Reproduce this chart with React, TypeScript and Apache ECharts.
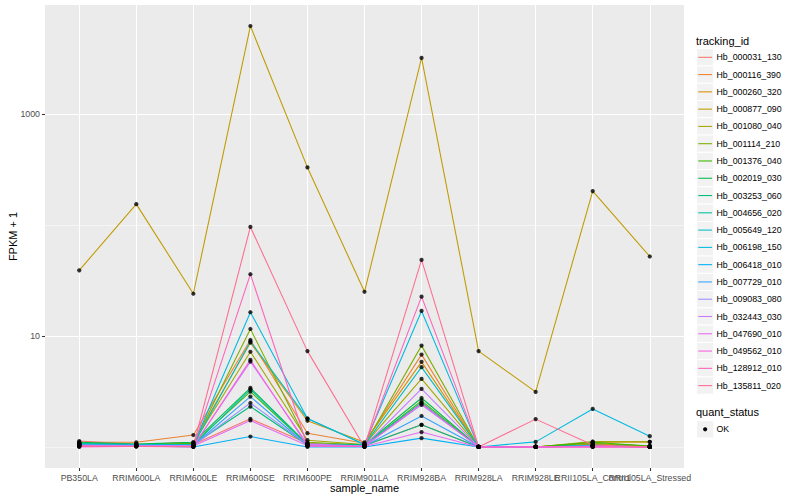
import React, { useEffect, useRef } from 'react';
import * as echarts from 'echarts';

// ---------- data ----------
const categories = [
  'PB350LA', 'RRIM600LA', 'RRIM600LE', 'RRIM600SE', 'RRIM600PE', 'RRIM901LA',
  'RRIM928BA', 'RRIM928LA', 'RRIM928LE', 'RRII105LA_Control', 'RRII105LA_Stressed',
];

const trackingIds = [
  'Hb_000031_130', 'Hb_000116_390', 'Hb_000260_320', 'Hb_000877_090', 'Hb_001080_040',
  'Hb_001114_210', 'Hb_001376_040', 'Hb_002019_030', 'Hb_003253_060', 'Hb_004656_020',
  'Hb_005649_120', 'Hb_006198_150', 'Hb_006418_010', 'Hb_007729_010', 'Hb_009083_080',
  'Hb_032443_030', 'Hb_047690_010', 'Hb_049562_010', 'Hb_128912_010', 'Hb_135811_020',
];

const seriesColors = [
  '#F8766D', '#EA8331', '#D89000', '#C09B00', '#A3A500', '#7CAE00', '#39B600', '#00BB4E',
  '#00BF7D', '#00C1A3', '#00BFC4', '#00BAE0', '#00B0F6', '#35A2FF', '#9590FF', '#C77CFF',
  '#E76BF3', '#FA62DB', '#FF62BC', '#FF6C91',
];

// FPKM + 1 per sample (order of categories)
const hb_000031_130 = [1.13, 1.05, 1.05, 1.79, 1.08, 1.03, 1.58, 1.0, 1.0, 1.05, 1.0];
const hb_000116_390 = [1.1, 1.1, 1.28, 9.2, 1.33, 1.08, 6.79, 1.0, 1.0, 1.06, 1.02];
const hb_000260_320 = [1.08, 1.05, 1.1, 8.7, 1.72, 1.1, 5.84, 1.0, 1.0, 1.1, 1.11];
const hb_000877_090 = [39, 154, 24, 6200, 330, 25, 3200, 7.3, 3.13, 202, 52];
const hb_001080_040 = [1.05, 1.04, 1.08, 7.2, 1.15, 1.05, 4.1, 1.0, 1.0, 1.12, 1.11];
const hb_001114_210 = [1.06, 1.04, 1.06, 11.56, 1.1, 1.04, 8.18, 1.0, 1.0, 1.08, 1.02];
const hb_001376_040 = [1.05, 1.03, 1.07, 3.15, 1.05, 1.03, 2.6, 1.0, 1.0, 1.1, 1.02];
const hb_002019_030 = [1.1, 1.06, 1.1, 3.4, 1.06, 1.05, 2.76, 1.0, 1.0, 1.04, 1.0];
const hb_003253_060 = [1.08, 1.05, 1.05, 2.31, 1.04, 1.03, 1.58, 1.0, 1.0, 1.03, 1.0];
const hb_004656_020 = [1.07, 1.05, 1.04, 3.3, 1.05, 1.04, 2.5, 1.0, 1.0, 1.03, 1.0];
const hb_005649_120 = [1.05, 1.04, 1.04, 8.9, 1.8, 1.05, 5.23, 1.0, 1.0, 1.02, 1.0];
const hb_006198_150 = [1.05, 1.04, 1.04, 16.35, 1.8, 1.05, 16.8, 1.0, 1.11, 2.2, 1.25];
const hb_006418_010 = [1.02, 1.02, 1.0, 1.24, 1.0, 1.0, 1.2, 1.0, 1.0, 1.02, 1.0];
const hb_007729_010 = [1.03, 1.03, 1.03, 2.84, 1.03, 1.02, 1.9, 1.0, 1.0, 1.02, 1.0];
const hb_009083_080 = [1.04, 1.03, 1.03, 2.49, 1.04, 1.02, 2.39, 1.0, 1.0, 1.02, 1.0];
const hb_032443_030 = [1.03, 1.02, 1.02, 5.87, 1.06, 1.02, 3.33, 1.0, 1.0, 1.01, 1.0];
const hb_047690_010 = [1.02, 1.02, 1.02, 1.73, 1.03, 1.01, 1.36, 1.0, 1.0, 1.01, 1.0];
const hb_049562_010 = [1.0, 1.01, 1.01, 6.08, 1.02, 1.01, 2.45, 1.0, 1.0, 1.0, 1.0];
const hb_128912_010 = [1.01, 1.01, 1.0, 36, 1.02, 1.01, 22.6, 1.0, 1.0, 1.0, 1.0];
const hb_135811_020 = [1.02, 1.01, 1.01, 96, 7.3, 1.0, 48.4, 1.0, 1.78, 1.04, 1.0];

const seriesValues = [
  hb_000031_130, hb_000116_390, hb_000260_320, hb_000877_090, hb_001080_040,
  hb_001114_210, hb_001376_040, hb_002019_030, hb_003253_060, hb_004656_020,
  hb_005649_120, hb_006198_150, hb_006418_010, hb_007729_010, hb_009083_080,
  hb_032443_030, hb_047690_010, hb_049562_010, hb_128912_010, hb_135811_020,
];

const yMajorBreaks = [10, 1000];
const yMajorLabels = ['10', '1000'];
const yMinorBreaks = [1, 100];
const quantStatus = ['OK'];

// ---------- layout ----------
const FONT = '"Liberation Sans", Arial, Helvetica, sans-serif';
const PANEL = { left: 45, top: 5, width: 639, height: 463 };
const LOG_MIN = -0.19;
const LOG_MAX = 3.982;
const yPix = (v: number) =>
  PANEL.top + (PANEL.height * (LOG_MAX - Math.log10(v))) / (LOG_MAX - LOG_MIN);
const EXPAND = 0.6;
const unit = PANEL.width / (categories.length - 1 + 2 * EXPAND);
const dataLeft = PANEL.left + EXPAND * unit;
const dataWidth = unit * (categories.length - 1);

const KEY = 17.28;
const LEG_X = 696.5;
const LEG_FIRST = 57.3;

function buildLegend() {
  const els: any[] = [];
  els.push({
    type: 'text', x: 696, y: 41,
    style: { text: 'tracking_id', fontSize: 11, fill: '#000', fontFamily: FONT, verticalAlign: 'middle', align: 'left' },
  });
  trackingIds.forEach((id, i) => {
    const cy = LEG_FIRST + i * KEY;
    els.push({
      type: 'rect',
      shape: { x: LEG_X, y: cy - KEY / 2, width: KEY, height: KEY },
      style: { fill: '#F2F2F2', stroke: '#FFFFFF', lineWidth: 1 },
    });
    els.push({
      type: 'line',
      shape: { x1: LEG_X + KEY * 0.1, y1: cy, x2: LEG_X + KEY * 0.9, y2: cy },
      style: { stroke: seriesColors[i], lineWidth: 1.07 },
    });
    els.push({
      type: 'text', x: 716.5, y: cy,
      style: { text: id, fontSize: 8.8, fill: '#000', fontFamily: FONT, verticalAlign: 'middle', align: 'left' },
    });
  });
  els.push({
    type: 'text', x: 696, y: 412,
    style: { text: 'quant_status', fontSize: 11, fill: '#000', fontFamily: FONT, verticalAlign: 'middle', align: 'left' },
  });
  quantStatus.forEach((q, i) => {
    const cy = 429.3 + i * KEY;
    els.push({
      type: 'rect',
      shape: { x: LEG_X, y: cy - KEY / 2, width: KEY, height: KEY },
      style: { fill: '#F2F2F2', stroke: '#FFFFFF', lineWidth: 1 },
    });
    els.push({
      type: 'circle',
      shape: { cx: LEG_X + KEY / 2, cy, r: 2.1 },
      style: { fill: '#000' },
    });
    els.push({
      type: 'text', x: 716.5, y: cy,
      style: { text: q, fontSize: 8.8, fill: '#000', fontFamily: FONT, verticalAlign: 'middle', align: 'left' },
    });
  });
  // axis titles
  els.push({
    type: 'text', x: PANEL.left + PANEL.width / 2, y: 488,
    style: { text: 'sample_name', fontSize: 11, fill: '#000', fontFamily: FONT, verticalAlign: 'middle', align: 'center' },
  });
  els.push({
    type: 'text', x: 12.5, y: PANEL.top + PANEL.height / 2, rotation: Math.PI / 2,
    style: { text: 'FPKM + 1', fontSize: 11, fill: '#000', fontFamily: FONT, verticalAlign: 'middle', align: 'center' },
  });
  return els;
}

export default function App() {
  const ref = useRef<HTMLDivElement>(null);

  useEffect(() => {
    if (!ref.current) return;
    const chart = echarts.init(ref.current, undefined, { renderer: 'svg' });

    const tickStyle = { show: true, length: 3, lineStyle: { color: '#333333', width: 1.07 } };

    const lineSeries = trackingIds.map((id, i) => ({
      name: id,
      type: 'line',
      xAxisIndex: 1,
      yAxisIndex: 1,
      data: seriesValues[i],
      symbol: 'none',
      showSymbol: false,
      lineStyle: { color: seriesColors[i], width: 1.07 },
      itemStyle: { color: seriesColors[i] },
      z: 2,
      silent: true,
    }));

    const pointData: any[] = [];
    seriesValues.forEach((vals) => {
      vals.forEach((v, j) => pointData.push([categories[j], v]));
    });

    const option: any = {
      animation: false,
      textStyle: { fontFamily: FONT },
      grid: [
        { left: PANEL.left, top: PANEL.top, width: PANEL.width, height: PANEL.height, show: true, backgroundColor: '#EBEBEB', borderWidth: 0 },
        { left: dataLeft, top: PANEL.top, width: dataWidth, height: PANEL.height },
        { left: PANEL.left, top: yPix(yMajorBreaks[1]), width: PANEL.width, height: yPix(yMajorBreaks[0]) - yPix(yMajorBreaks[1]) },
        { left: PANEL.left, top: yPix(yMinorBreaks[1]), width: PANEL.width, height: yPix(yMinorBreaks[0]) - yPix(yMinorBreaks[1]) },
      ],
      xAxis: [
        { gridIndex: 0, type: 'value', show: false, min: 0, max: 1 },
        {
          gridIndex: 1, type: 'category', data: categories, boundaryGap: false,
          axisLine: { show: false },
          axisTick: tickStyle,
          axisLabel: { interval: 0, hideOverlap: false, color: '#4D4D4D', fontSize: 8.8, margin: 5, fontFamily: FONT },
          splitLine: { show: true, lineStyle: { color: '#FFFFFF', width: 1.07 } },
        },
        { gridIndex: 2, type: 'value', show: false, min: 0, max: 1 },
        { gridIndex: 3, type: 'value', show: false, min: 0, max: 1 },
      ],
      yAxis: [
        { gridIndex: 0, type: 'value', show: false, min: 0, max: 1 },
        { gridIndex: 1, type: 'log', show: false, min: Math.pow(10, LOG_MIN), max: Math.pow(10, LOG_MAX) },
        {
          gridIndex: 2, type: 'value', min: 0, max: 1, interval: 1,
          axisLine: { show: false },
          axisTick: tickStyle,
          axisLabel: {
            color: '#4D4D4D', fontSize: 8.8, margin: 5, fontFamily: FONT,
            formatter: (v: number) => yMajorLabels[v < 0.5 ? 0 : 1],
          },
          splitLine: { show: true, lineStyle: { color: '#FFFFFF', width: 1.07 } },
        },
        {
          gridIndex: 3, type: 'value', min: 0, max: 1, interval: 1,
          axisLine: { show: false }, axisTick: { show: false }, axisLabel: { show: false },
          splitLine: { show: true, lineStyle: { color: '#FFFFFF', width: 0.53 } },
        },
      ],
      series: [
        ...lineSeries,
        {
          name: 'OK', type: 'scatter', xAxisIndex: 1, yAxisIndex: 1,
          data: pointData, symbol: 'circle', symbolSize: 4.2,
          itemStyle: { color: '#000000' }, z: 3, silent: true,
        },
      ],
      graphic: buildLegend(),
    };

    chart.setOption(option);
    return () => chart.dispose();
  }, []);

  return (
    <div
      ref={ref}
      style={{ position: 'fixed', left: 0, top: 0, width: 800, height: 500, background: '#FFFFFF' }}
    />
  );
}
